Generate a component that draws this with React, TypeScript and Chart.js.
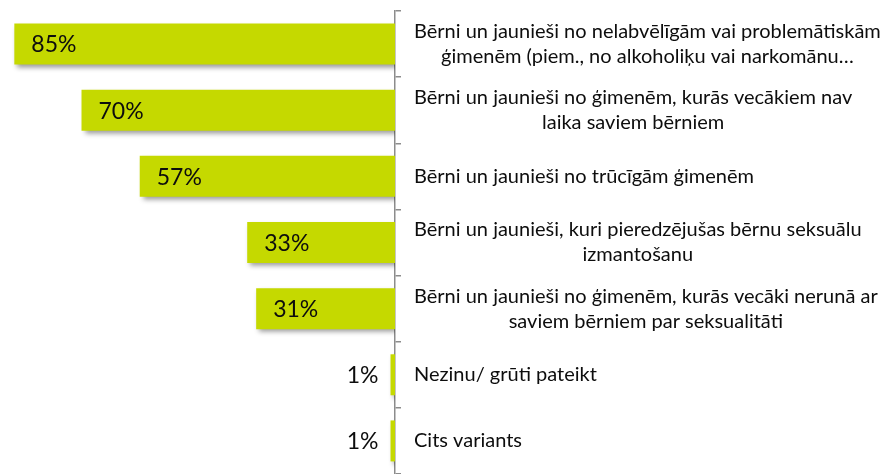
import React, { useEffect, useRef } from "react";
import { Chart, registerables } from "chart.js";

Chart.register(...registerables);

const categories: string[][] = [
  ["Bērni un jaunieši no nelabvēlīgām vai problemātiskām", "ģimenēm (piem., no alkoholiķu vai narkomānu…"],
  ["Bērni un jaunieši no ģimenēm, kurās vecākiem nav", "laika saviem bērniem"],
  ["Bērni un jaunieši no trūcīgām ģimenēm"],
  ["Bērni un jaunieši, kuri pieredzējušas bērnu seksuālu", "izmantošanu"],
  ["Bērni un jaunieši no ģimenēm, kurās vecāki nerunā ar", "saviem bērniem par seksualitāti"],
  ["Nezinu/ grūti pateikt"],
  ["Cits variants"],
];
const values: number[] = [85, 70, 57, 33, 31, 1, 1];
const valueLabels: string[] = ["85%", "70%", "57%", "33%", "31%", "1%", "1%"];

const FONT = "Lato, 'Noto Sans', sans-serif";

const shadowPlugin = {
  id: "barShadow",
  beforeDatasetsDraw(chart: any) {
    const ctx = chart.ctx;
    ctx.save();
    ctx.shadowColor = "rgba(0,0,0,0.4)";
    ctx.shadowBlur = 5;
    ctx.shadowOffsetX = 3;
    ctx.shadowOffsetY = 3;
  },
  afterDatasetsDraw(chart: any) {
    chart.ctx.restore();
  },
};

const labelsPlugin = {
  id: "customLabels",
  afterDraw(chart: any) {
    const ctx = chart.ctx;
    const yScale = chart.scales.y;
    const meta = chart.getDatasetMeta(0);
    ctx.save();
    // category labels
    ctx.fillStyle = "#0d0d0d";
    ctx.font = `20px ${FONT}`;
    ctx.textBaseline = "middle";
    ctx.textAlign = "center";
    const lineH = 25;
    categories.forEach((lines, i) => {
      const y = yScale.getPixelForValue(i);
      const maxW = Math.max(...lines.map((l) => ctx.measureText(l).width));
      const cx = yScale.left + 19 + maxW / 2;
      lines.forEach((l, j) => {
        ctx.fillText(l, cx, y + (j - (lines.length - 1) / 2) * lineH);
      });
    });
    // value labels
    ctx.font = `23px ${FONT}`;
    ctx.fillStyle = "#0d0d0d";
    meta.data.forEach((bar: any, i: number) => {
      const left = Math.min(bar.x, bar.base);
      const right = Math.max(bar.x, bar.base);
      const w = right - left;
      if (w > 40) {
        ctx.textAlign = "left";
        ctx.fillText(valueLabels[i], left + 17, bar.y + 1);
      } else {
        ctx.textAlign = "right";
        ctx.fillText(valueLabels[i], left - 12, bar.y + 1);
      }
    });
    ctx.restore();
  },
};

export default function App() {
  const ref = useRef<HTMLCanvasElement | null>(null);
  useEffect(() => {
    if (!ref.current) return;
    const chart = new Chart(ref.current, {
      type: "bar",
      data: {
        labels: categories.map((c) => c.join(" ")),
        datasets: [
          {
            data: values,
            backgroundColor: "#c5d900",
            borderWidth: 0,
            barPercentage: 0.62,
            categoryPercentage: 1,
          },
        ],
      },
      options: {
        indexAxis: "y",
        responsive: false,
        animation: false,
        devicePixelRatio: 1,
        layout: { padding: { left: 0, top: 11, right: 0, bottom: 0 } },
        plugins: {
          legend: { display: false },
          tooltip: { enabled: false },
        },
        scales: {
          x: {
            display: false,
            reverse: true,
            min: 0,
            max: 88.2,
          },
          y: {
            position: "right",
            offset: true,
            afterFit: (scale: any) => {
              scale.width = 883 - 395;
            },
            grid: {
              offset: true,
              drawOnChartArea: false,
              drawTicks: true,
              tickLength: 6,
              color: "#8c8c8c",
              lineWidth: 1.5,
            },
            border: { display: true, color: "#8c8c8c", width: 1.5 },
            ticks: { display: false },
          },
        },
      },
      plugins: [shadowPlugin, labelsPlugin],
    } as any);
    return () => chart.destroy();
  }, []);
  return (
    <div style={{ position: "absolute", left: 0, top: 0, width: 883, height: 474, background: "#fff" }}>
      <canvas ref={ref} width={883} height={474} />
    </div>
  );
}
